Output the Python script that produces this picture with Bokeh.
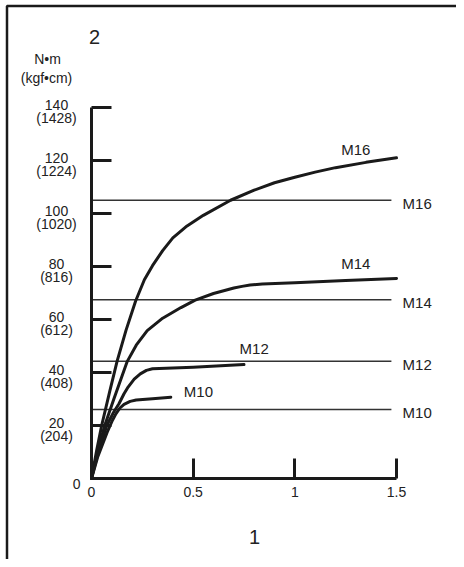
from bokeh.plotting import figure
from bokeh.models import Range1d, BoxAnnotation, FixedTicker, CustomLabelingPolicy
from bokeh.core.properties import value
from bokeh.embed import file_html
from bokeh.resources import INLINE

# ---------------- data ----------------
m16_x = [0, 0.025, 0.05, 0.09, 0.126, 0.17, 0.217, 0.26, 0.30, 0.35, 0.40, 0.47, 0.55, 0.684,
         0.80, 0.9, 1.0, 1.1, 1.2, 1.35, 1.5]
m16_y = [0, 10.5, 20, 33, 44.3, 56, 67, 75, 80.3, 86, 90.8, 95.3, 99.3, 105,
         108.8, 111.6, 113.7, 115.6, 117.3, 119.3, 121]

m14_x = [0, 0.03, 0.065, 0.11, 0.176, 0.22, 0.274, 0.35, 0.44, 0.51, 0.60, 0.70, 0.74, 0.78,
         0.84, 1.0, 1.25, 1.5]
m14_y = [0, 10, 20, 30, 44.2, 50.3, 55.8, 60.5, 64.5, 67.3, 69.8, 71.9, 72.5, 73.0,
         73.4, 73.9, 74.7, 75.5]

m12_x = [0, 0.03, 0.075, 0.105, 0.135, 0.16, 0.18, 0.21, 0.24, 0.27, 0.30, 0.5, 0.75]
m12_y = [0, 9, 20, 24.5, 28.2, 32, 34.5, 37.5, 39.5, 40.8, 41.4, 42.0, 43.0]

m10_x = [0, 0.03, 0.08, 0.1, 0.12, 0.14, 0.16, 0.19, 0.22, 0.3, 0.39]
m10_y = [0, 8, 18, 21.5, 24.4, 26.6, 28.0, 29.1, 29.6, 30.1, 30.7]

curve_names = ["M16", "M14", "M12", "M10"]
ref_names = ["M16", "M14", "M12", "M10"]
ref_values = [105, 67.5, 44.2, 26]

x_ticks = [0, 0.5, 1, 1.5]
x_tick_labels = ["0", "0.5", "1", "1.5"]
y_ticks = [20, 40, 60, 80, 100, 120, 140]
y_tick_nm = ["20", "40", "60", "80", "100", "120", "140"]
y_tick_kgf = ["(204)", "(408)", "(612)", "(816)", "(1020)", "(1224)", "(1428)"]
y_zero_label = "0"

x_title = "1"
y_title = "2"
unit_line1 = "N•m"
unit_line2 = "(kgf•cm)"

# ---------------- layout ----------------
W, H = 456, 559
OX, OY = 91, 478          # canvas pixel of data origin
XPX, YPX = 203.33, 2.65   # pixels per data unit
x_start, x_end = -OX / XPX, (W - OX) / XPX
y_start, y_end = (OY - H) / YPX, OY / YPX

FONT = "Liberation Sans"
TXT = "#222222"
INK = "#1a1a1a"

p = figure(width=W, height=H, x_range=Range1d(x_start, x_end), y_range=Range1d(y_start, y_end),
           output_backend="svg", toolbar_location=None, min_border=0)
p.outline_line_color = None
p.grid.visible = False
p.background_fill_color = "white"
p.border_fill_color = "white"

# frame border (left and top edges visible; right/bottom run off the canvas)
p.add_layout(BoxAnnotation(left=x_start + 6.5 / XPX, top=y_end - 5.5 / YPX,
                           right=x_end + 1.0, bottom=y_start - 10.0,
                           fill_alpha=0, line_color=INK, line_width=2.5, line_alpha=1))

# axes at data origin
xa = p.xaxis[0]
xa.fixed_location = 0
xa.bounds = (0, 1.5)
xa.ticker = FixedTicker(ticks=x_ticks)
xa.major_label_overrides = {t: l for t, l in zip(x_ticks, x_tick_labels)}
xa.major_tick_in = 20
xa.major_tick_out = 0
xa.minor_tick_line_color = None
xa.axis_line_width = 3
xa.axis_line_color = INK
xa.major_tick_line_width = 3
xa.major_tick_line_color = INK
xa.major_label_text_font = FONT
xa.major_label_text_font_size = "14px"
xa.major_label_text_color = TXT
xa.major_label_standoff = 8

ya = p.yaxis[0]
ya.fixed_location = 0
ya.bounds = (0, 140)
ya.ticker = FixedTicker(ticks=y_ticks)
ya.major_label_policy = CustomLabelingPolicy(code="return new Set()")
ya.major_tick_in = 20
ya.major_tick_out = 0
ya.minor_tick_line_color = None
ya.axis_line_width = 3
ya.axis_line_color = INK
ya.major_tick_line_width = 3
ya.major_tick_line_color = INK

# y tick labels: N·m value above, kgf·cm value below
common = dict(text_align="center", text_baseline="middle", text_font=value(FONT),
              text_font_size="14px", text_color=TXT)
p.text(x=[0] * len(y_ticks), y=y_ticks, text=y_tick_nm, x_offset=-35, y_offset=-3, **common)
p.text(x=[0] * len(y_ticks), y=y_ticks, text=y_tick_kgf, x_offset=-35, y_offset=10, **common)
p.text(x=[0], y=[0], text=[y_zero_label], x_offset=-11, y_offset=5, text_align="right",
       text_baseline="middle", text_font=value(FONT), text_font_size="14px", text_color=TXT)

# reference lines
p.segment(x0=[0] * len(ref_values), y0=ref_values, x1=[1.475] * len(ref_values), y1=ref_values,
          line_color="#333333", line_width=1.5)
p.text(x=[1.53] * len(ref_values), y=ref_values, text=ref_names, y_offset=3,
       text_align="left", text_baseline="middle", text_font=value(FONT),
       text_font_size="15px", text_color=TXT)

# curves
for xs, ys in [(m16_x, m16_y), (m14_x, m14_y), (m12_x, m12_y), (m10_x, m10_y)]:
    p.line(xs, ys, line_color=INK, line_width=3, line_join="round", line_cap="round")

# curve labels
lab_x = [1.30, 1.30, 0.80, 0.526]
lab_y = [124.3, 81.3, 48.9, 33.0]
p.text(x=lab_x, y=lab_y, text=curve_names, text_align="center", text_baseline="middle",
       text_font=value(FONT), text_font_size="15px", text_color=TXT)

# titles
def px_to_data(cx, cy):
    return [(cx - OX) / XPX], [(OY - cy) / YPX]

tx, ty = px_to_data(94, 36)
p.text(x=tx, y=ty, text=[y_title], text_align="center", text_baseline="middle",
       text_font=value(FONT), text_font_size="20px", text_color=TXT)
tx, ty = px_to_data(47, 58)
p.text(x=tx, y=ty, text=[unit_line1], text_align="center", text_baseline="middle",
       text_font=value(FONT), text_font_size="14px", text_color=TXT)
tx, ty = px_to_data(46, 77.5)
p.text(x=tx, y=ty, text=[unit_line2], text_align="center", text_baseline="middle",
       text_font=value(FONT), text_font_size="14px", text_color=TXT)
tx, ty = px_to_data(254, 536)
p.text(x=tx, y=ty, text=[x_title], text_align="center", text_baseline="middle",
       text_font=value(FONT), text_font_size="20px", text_color=TXT)

open("out.html", "w").write(file_html(p, INLINE))
